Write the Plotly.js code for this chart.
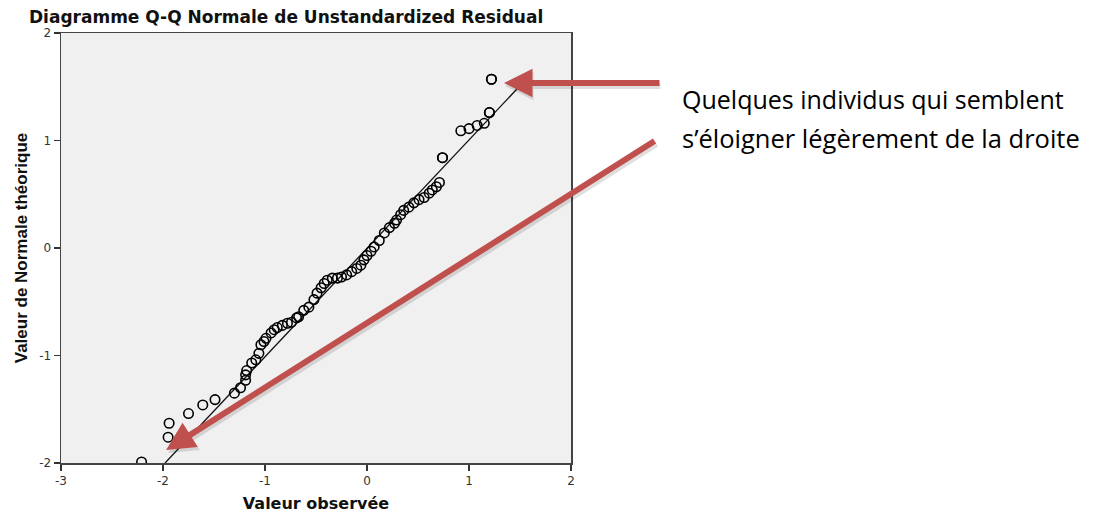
<!DOCTYPE html>
<html>
<head>
<meta charset="utf-8">
<script src="https://cdn.plot.ly/plotly-3.0.1.min.js"></script>
<style>html,body{margin:0;padding:0;background:#fff;}#chart{width:1095px;height:514px;}</style>
</head>
<body>
<div id="chart"></div>
<script>
// Observed residual values (x) and expected normal values (y)
const observed = [-2.21,-1.95,-1.94,-1.75,-1.61,-1.49,-1.30,-1.24,-1.19,-1.19,-1.18,-1.13,-1.09,-1.06,-1.04,-1.01,-0.99,-0.94,-0.91,-0.88,-0.83,-0.78,-0.74,-0.69,-0.67,-0.62,-0.57,-0.52,-0.49,-0.45,-0.42,-0.39,-0.34,-0.29,-0.25,-0.20,-0.15,-0.10,-0.06,-0.03,0.00,0.04,0.07,0.12,0.17,0.22,0.27,0.29,0.33,0.36,0.41,0.46,0.51,0.56,0.61,0.64,0.68,0.71,0.74,0.74,0.92,1.00,1.08,1.15,1.20,1.20,1.22,1.22];
const expected = [-1.99,-1.76,-1.63,-1.54,-1.46,-1.41,-1.35,-1.30,-1.23,-1.18,-1.14,-1.07,-1.04,-0.98,-0.90,-0.87,-0.84,-0.79,-0.76,-0.74,-0.72,-0.70,-0.69,-0.65,-0.64,-0.58,-0.55,-0.48,-0.42,-0.37,-0.33,-0.30,-0.28,-0.28,-0.27,-0.25,-0.22,-0.19,-0.16,-0.11,-0.07,-0.03,0.01,0.07,0.14,0.19,0.23,0.26,0.31,0.35,0.38,0.42,0.45,0.47,0.51,0.54,0.57,0.61,0.84,0.84,1.09,1.11,1.14,1.16,1.26,1.26,1.57,1.57];
// Reference line end points
const lineX = [-1.98, 1.56];
const lineY = [-2.0, 1.57];
const xTicks = [-3,-2,-1,0,1,2];
const xTickText = ["-3","-2","-1","0","1","2"];
const yTicks = [-2,-1,0,1,2];
const yTickText = ["-2","-1","0","1","2"];
const titleText = "Diagramme Q-Q Normale de Unstandardized Residual";
const xTitle = "Valeur observée";
const yTitle = "Valeur de Normale théorique";
const noteLine1 = "Quelques individus qui semblent";
const noteLine2 = "s’éloigner légèrement de la droite";

const wideFont = 'DejaVu Sans, Verdana, sans-serif';

const traces = [
  {x: lineX, y: lineY, mode: 'lines', line: {color: '#111', width: 1.3}, hoverinfo: 'skip', showlegend: false},
  {x: observed, y: expected, mode: 'markers', marker: {symbol: 'circle-open', size: 9.5, color: '#000', line: {width: 1.6, color: '#000'}}, showlegend: false}
];

const axisCommon = {
  showgrid: false, zeroline: false, showline: true, mirror: true,
  linecolor: '#444', linewidth: 1.5, ticks: 'outside', ticklen: 6, tickwidth: 1.2, tickcolor: '#333',
  tickfont: {family: wideFont, size: 12, color: '#333'}
};

const PL = 61, PW = 510, PT = 33, PH = 430;
function px2paperX(px){ return (px - PL) / PW; }
function px2paperY(py){ return (PT + PH - py) / PH; }

function arrow(x, y, ax, ay, color, dx, dy){
  return {x: x, y: y, xref: 'x', yref: 'y', ax: ax, ay: ay, axref: 'pixel', ayref: 'pixel', showarrow: true,
    arrowhead: 2, arrowsize: 0.95, arrowwidth: 6, arrowcolor: color, text: '', xshift: dx, yshift: dy};
}

const layout = {
  width: 1095, height: 514,
  margin: {l: PL, r: 1095 - PL - PW, t: PT, b: 514 - PT - PH, pad: 0},
  paper_bgcolor: '#ffffff', plot_bgcolor: '#f0f0f0',
  title: {text: '<b>' + titleText + '</b>', x: 29/1095, xanchor: 'left', xref: 'container', y: 1 - 17/514, yanchor: 'middle', yref: 'container',
    font: {family: wideFont, size: 17, color: '#111'}},
  xaxis: Object.assign({}, axisCommon, {range: [-3, 2], tickvals: xTicks, ticktext: xTickText,
    title: {text: '<b>' + xTitle + '</b>', standoff: 11, font: {family: wideFont, size: 16, color: '#111'}}}),
  yaxis: Object.assign({}, axisCommon, {range: [-2, 2], tickvals: yTicks, ticktext: yTickText,
    title: {text: '<b>' + yTitle + '</b>', standoff: 7, font: {family: 'Liberation Sans, Arial, sans-serif', size: 17, color: '#111'}}}),
  annotations: [
    arrow(1.343, 1.535, 157, 0, 'rgba(0,0,0,0.12)', 1, -3),
    arrow(-1.97, -1.88, 490, -310, 'rgba(0,0,0,0.12)', 2, -3),
    arrow(1.343, 1.535, 157, 0, '#c0504d', 0, 0),
    arrow(-1.97, -1.88, 490, -310, '#c0504d', 0, 0),
    {x: px2paperX(680), y: px2paperY(99), xref: 'paper', yref: 'paper', xanchor: 'left', yanchor: 'middle', align: 'left',
     showarrow: false, text: noteLine1, font: {family: 'Open Sans, Noto Sans, sans-serif', size: 25, color: '#000'}},
    {x: px2paperX(680), y: px2paperY(138), xref: 'paper', yref: 'paper', xanchor: 'left', yanchor: 'middle', align: 'left',
     showarrow: false, text: noteLine2, font: {family: 'Open Sans, Noto Sans, sans-serif', size: 25.5, color: '#000'}}
  ]
};

Plotly.newPlot('chart', traces, layout, {displayModeBar: false, staticPlot: true});
</script>
</body>
</html>
